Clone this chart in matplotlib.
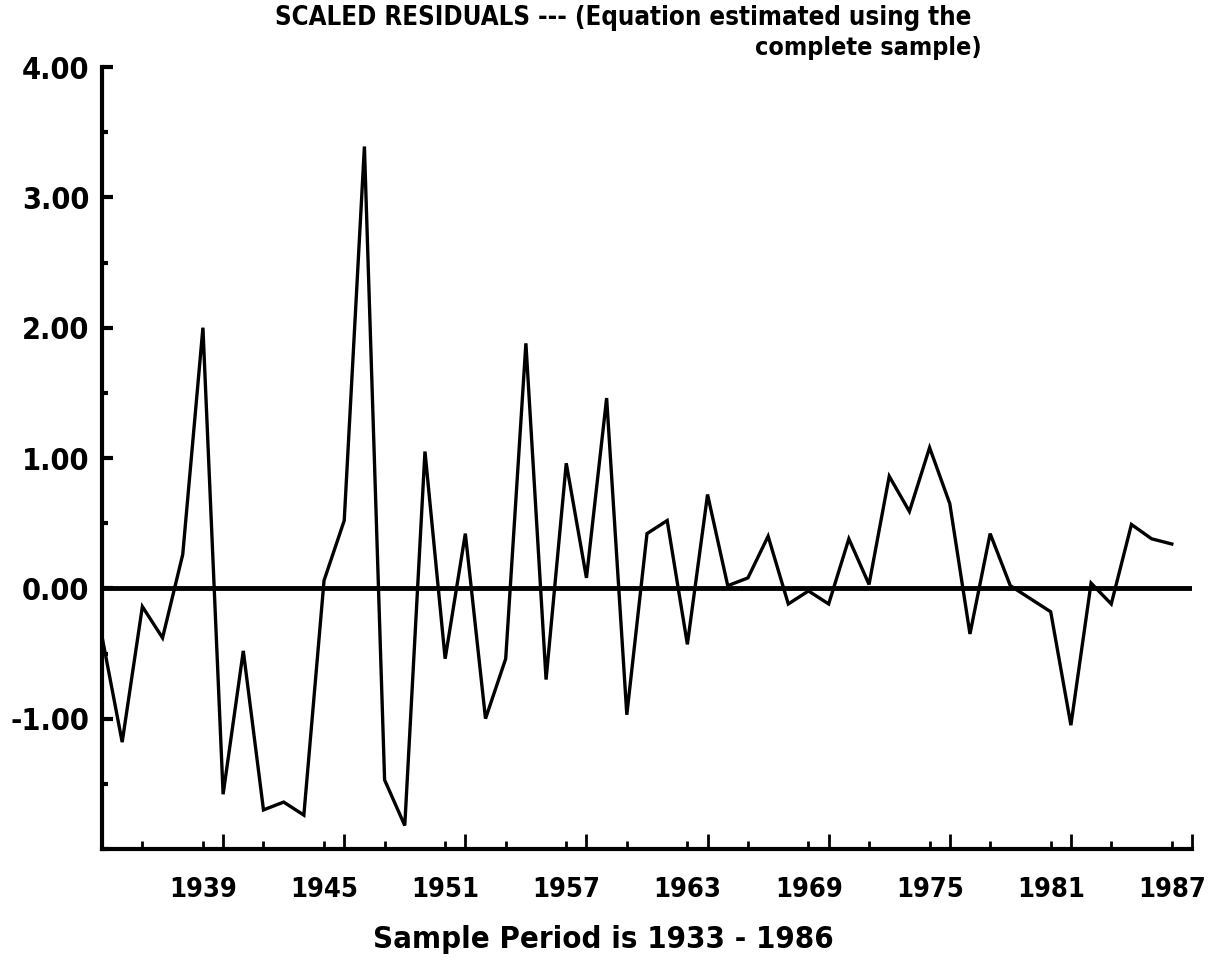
import numpy as np
import matplotlib.pyplot as plt
from matplotlib.ticker import MultipleLocator, FixedLocator
import matplotlib.transforms as mtransforms

# datos: residuos escalados, anual 1933 - 1986
years = list(range(1933, 1987))
residuals = [-0.37, -1.18, -0.14, -0.38, 0.26, 2.00, -1.58, -0.48, -1.70, -1.64,
             -1.74, 0.06, 0.52, 3.39, -1.47, -1.82, 1.05, -0.54, 0.42, -1.00,
             -0.54, 1.88, -0.70, 0.96, 0.08, 1.46, -0.97, 0.42, 0.52, -0.43,
             0.72, 0.02, 0.08, 0.40, -0.12, -0.02, -0.12, 0.38, 0.03, 0.86,
             0.59, 1.08, 0.65, -0.35, 0.42, 0.02, -0.08, -0.18, -1.05, 0.04,
             -0.12, 0.49, 0.38, 0.34]
xticks_major = [1939, 1945, 1951, 1957, 1963, 1969, 1975, 1981, 1987]
yticks_major = [-1.0, 0.0, 1.0, 2.0, 3.0, 4.0]

title1 = "SCALED RESIDUALS --- (Equation estimated using the"
title2 = "complete sample)"
xlabel = "Sample Period is 1933 - 1986"

W, H = 1208, 961

# fuente angosta y negrita, parecida a la de impresora
plt.rcParams['font.family'] = ['DejaVu Sans']
plt.rcParams['font.weight'] = 'bold'
plt.rcParams['font.stretch'] = 'condensed'

fig = plt.figure(figsize=(W / 100, H / 100), dpi=100)
# ejes en pixeles: izq 102, der 1192, arriba 67, abajo 849
ax = fig.add_axes([102 / W, (H - 849) / H, (1192 - 102) / W, (849 - 67) / H])

ax.plot(years, residuals, color='black', lw=2.4, solid_joinstyle='miter')
ax.axhline(0, color='black', lw=3.5)

ax.set_xlim(1933, 1987)
ax.set_ylim(-2, 4)

for s in ['top', 'right']:
    ax.spines[s].set_visible(False)
for s in ['left', 'bottom']:
    ax.spines[s].set_linewidth(3)

ax.xaxis.set_major_locator(FixedLocator(xticks_major))
ax.xaxis.set_minor_locator(MultipleLocator(3))
ax.yaxis.set_major_locator(FixedLocator(yticks_major))
ax.yaxis.set_minor_locator(MultipleLocator(0.5))
ax.set_xticklabels([str(y) for y in xticks_major])
ax.set_yticklabels(["%.2f" % v for v in yticks_major])

ax.tick_params(axis='x', which='major', direction='in', length=11, width=2,
               pad=20, labelsize=19.5)
ax.tick_params(axis='x', which='minor', direction='in', length=6, width=2)
ax.tick_params(axis='y', which='major', direction='in', length=8, width=3,
               pad=9, labelsize=22)
ax.tick_params(axis='y', which='minor', direction='in', length=4, width=3)

# las etiquetas de x van un poco a la izquierda del tick
off = mtransforms.ScaledTranslation(-20 / 100, 0, fig.dpi_scale_trans)
for lab in ax.get_xticklabels():
    lab.set_transform(lab.get_transform() + off)

# titulo en dos lineas, la segunda alineada a la derecha
fig.text(623 / W, 1 - 18 / H, title1, ha='center', va='center', fontsize=18.5)
fig.text(982 / W, 1 - 48 / H, title2, ha='right', va='center', fontsize=18)
fig.text(603 / W, 1 - 940 / H, xlabel, ha='center', va='center', fontsize=22.3)

fig.savefig('out.png', dpi=100, facecolor='white')
